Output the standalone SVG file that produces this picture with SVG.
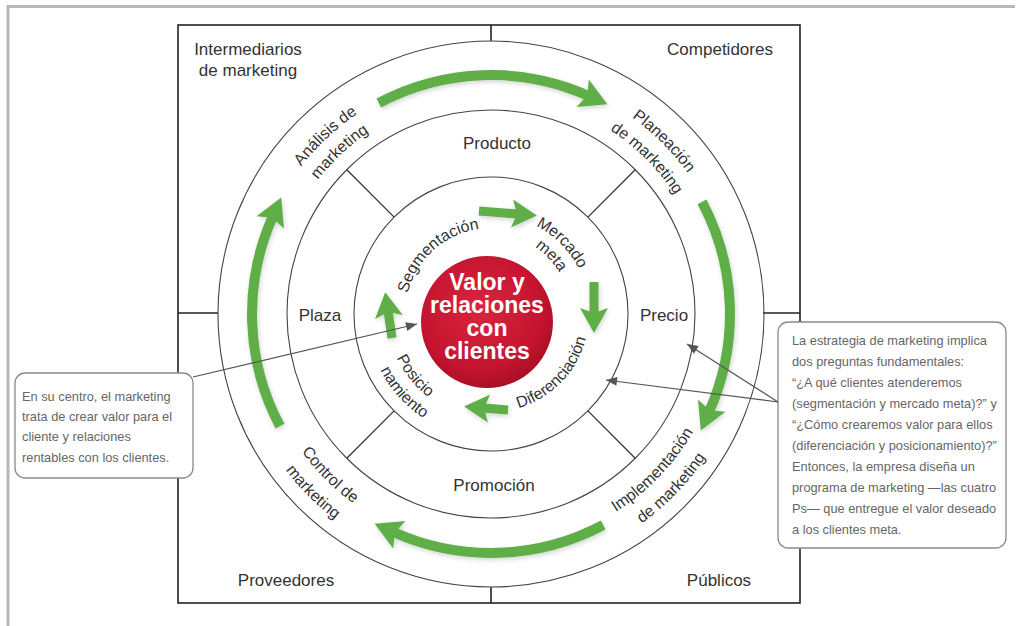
<svg xmlns="http://www.w3.org/2000/svg" width="1020" height="626" viewBox="0 0 1020 626">
  <style>
    .frame { fill: none; stroke: #b8b8b8; stroke-width: 3; }
    .sq { fill: none; stroke: #222; stroke-width: 1.6; }
    .ring { fill: none; stroke: #444; stroke-width: 1.1; }
    .div { stroke: #333; stroke-width: 1.3; }
    .lbl { font-family: "Liberation Sans", Arial, sans-serif; font-size: 17px; fill: #333; }
    .arc { font-family: "Liberation Sans", Arial, sans-serif; font-size: 16px; fill: #333; }
    .core { font-family: "Liberation Sans", Arial, sans-serif; font-size: 23px; font-weight: bold; fill: #fff; text-anchor: middle; }
    .big { fill: none; stroke: #5eae46; stroke-width: 10; }
    .small { fill: none; stroke: #5eae46; stroke-width: 9; }
    .box { fill: #fff; stroke: #8a8a8a; stroke-width: 1.3; }
    .note { font-family: "Liberation Sans", Arial, sans-serif; font-size: 12.8px; fill: #666; }
    .lead { stroke: #555; stroke-width: 1.2; fill: none; }
  </style>
  <defs>
    <radialGradient id="redFill" cx="45%" cy="40%" r="65%">
      <stop offset="0" stop-color="#d9263f"/>
      <stop offset="0.7" stop-color="#c4142f"/>
      <stop offset="1" stop-color="#a50d24"/>
    </radialGradient>
    <filter id="soft" x="-20%" y="-20%" width="140%" height="140%">
      <feGaussianBlur in="SourceAlpha" stdDeviation="2.5"/>
      <feOffset dx="1" dy="1.5"/>
      <feComponentTransfer><feFuncA type="linear" slope="0.18"/></feComponentTransfer>
      <feMerge><feMergeNode/><feMergeNode in="SourceGraphic"/></feMerge>
    </filter>
    <marker id="headBig" markerUnits="userSpaceOnUse" markerWidth="40" markerHeight="40" viewBox="-10 -20 40 40" refX="0" refY="0" orient="auto">
      <path d="M-6,-15 L21,0 L-6,15 L-1,0 Z" fill="#5eae46"/>
    </marker>
    <marker id="headSmall" markerUnits="userSpaceOnUse" markerWidth="40" markerHeight="40" viewBox="-10 -20 40 40" refX="0" refY="0" orient="auto">
      <path d="M-6,-14 L19,0 L-6,14 L-1,0 Z" fill="#5eae46"/>
    </marker>
    <marker id="tip" markerUnits="userSpaceOnUse" markerWidth="14" markerHeight="14" viewBox="-12 -6 14 12" refX="0" refY="0" orient="auto">
      <path d="M-11,-4.5 L0,0 L-11,4.5 Z" fill="#555"/>
    </marker>
    <!-- text baselines on the rings -->
    <path id="a1" d="M269.2,408.2 A242,242 0 0 1 600.9,98.4"/>
    <path id="a2" d="M289.4,399.6 A219,219 0 0 1 590.4,118.9"/>
    <path id="p1" d="M388.7,94.7 A242,242 0 0 1 710.3,416.3"/>
    <path id="p2" d="M398.4,115.5 A219,219 0 0 1 689.5,406.6"/>
    <path id="c1" d="M278.9,215.1 A234,234 0 0 0 589.9,526.1"/>
    <path id="c2" d="M257.2,205.0 A258,258 0 0 0 600.0,547.8"/>
    <path id="i1" d="M395.8,527.8 A234,234 0 0 0 701.3,211.4"/>
    <path id="i2" d="M386.1,549.7 A258,258 0 0 0 722.9,200.9"/>
    <path id="s1" d="M411.3,346.2 A86,86 0 0 1 531.4,238.1"/>
    <path id="m1" d="M449.2,224.3 A99,99 0 0 1 580.7,355.8"/>
    <path id="m2" d="M458.5,240.9 A80,80 0 0 1 562.9,349.1"/>
    <path id="d1" d="M451.1,403.5 A98,98 0 0 0 579.1,271.0"/>
    <path id="n1" d="M401.9,260.4 A104,104 0 0 0 524.9,412.3"/>
    <path id="n2" d="M381.5,255.8 A124,124 0 0 0 537.5,429.0"/>
  </defs>

  <rect width="1020" height="626" fill="#fff"/>
  <path class="frame" d="M8,626 V6.5 H1015"/>

  <!-- environment square with quadrant ticks -->
  <g id="environment">
    <rect class="sq" x="178" y="25" width="622" height="578"/>
    <line class="sq" x1="491" y1="25" x2="491" y2="41"/>
    <line class="sq" x1="491" y1="587" x2="491" y2="603"/>
    <line class="sq" x1="178" y1="313" x2="218" y2="313"/>
    <line class="sq" x1="763" y1="313" x2="800" y2="313"/>
    <text class="lbl" x="248" y="55" text-anchor="middle">Intermediarios</text>
    <text class="lbl" x="248" y="76" text-anchor="middle">de marketing</text>
    <text class="lbl" x="720" y="55" text-anchor="middle">Competidores</text>
    <text class="lbl" x="286" y="586" text-anchor="middle">Proveedores</text>
    <text class="lbl" x="719" y="586" text-anchor="middle">Públicos</text>
  </g>

  <!-- rings -->
  <g id="rings">
    <circle class="ring" cx="491" cy="314" r="273"/>
    <circle class="ring" cx="491" cy="314" r="204"/>
    <circle class="ring" cx="491" cy="314" r="137"/>
    <line class="div" x1="394.1" y1="217.1" x2="346.8" y2="169.8"/>
    <line class="div" x1="587.9" y1="217.1" x2="635.2" y2="169.8"/>
    <line class="div" x1="587.9" y1="410.9" x2="635.2" y2="458.2"/>
    <line class="div" x1="394.1" y1="410.9" x2="346.8" y2="458.2"/>
  </g>

  <!-- four Ps -->
  <g id="mix">
    <text class="lbl" x="497" y="149" text-anchor="middle">Producto</text>
    <text class="lbl" x="664" y="321" text-anchor="middle">Precio</text>
    <text class="lbl" x="320" y="321" text-anchor="middle">Plaza</text>
    <text class="lbl" x="494" y="491" text-anchor="middle">Promoción</text>
  </g>

  <!-- process steps on the outer ring -->
  <g id="analysis" class="arc">
    <text><textPath href="#a1" startOffset="50%" text-anchor="middle">Análisis de</textPath></text>
    <text><textPath href="#a2" startOffset="50%" text-anchor="middle">marketing</textPath></text>
  </g>
  <g id="planning" class="arc">
    <text><textPath href="#p1" startOffset="50%" text-anchor="middle">Planeación</textPath></text>
    <text><textPath href="#p2" startOffset="50%" text-anchor="middle">de marketing</textPath></text>
  </g>
  <g id="implementation" class="arc">
    <text><textPath href="#i1" startOffset="50%" text-anchor="middle">Implementación</textPath></text>
    <text><textPath href="#i2" startOffset="50%" text-anchor="middle">de marketing</textPath></text>
  </g>
  <g id="control" class="arc">
    <text><textPath href="#c1" startOffset="50%" text-anchor="middle">Control de</textPath></text>
    <text><textPath href="#c2" startOffset="50%" text-anchor="middle">marketing</textPath></text>
  </g>

  <!-- strategy steps on the inner ring -->
  <g id="segmentation" class="arc">
    <text><textPath href="#s1" startOffset="50%" text-anchor="middle">Segmentación</textPath></text>
  </g>
  <g id="targeting" class="arc">
    <text><textPath href="#m1" startOffset="50%" text-anchor="middle">Mercado</textPath></text>
    <text><textPath href="#m2" startOffset="50%" text-anchor="middle">meta</textPath></text>
  </g>
  <g id="differentiation" class="arc">
    <text><textPath href="#d1" startOffset="50%" text-anchor="middle">Diferenciación</textPath></text>
  </g>
  <g id="positioning" class="arc">
    <text><textPath href="#n1" startOffset="50%" text-anchor="middle">Posicio</textPath></text>
    <text><textPath href="#n2" startOffset="50%" text-anchor="middle">namiento</textPath></text>
  </g>

  <!-- core -->
  <g id="core">
    <circle cx="487" cy="322" r="66" fill="url(#redFill)"/>
    <text class="core" x="487" y="290">Valor y</text>
    <text class="core" x="487" y="313">relaciones</text>
    <text class="core" x="487" y="336">con</text>
    <text class="core" x="487" y="359">clientes</text>
  </g>

  <!-- cycle arrows -->
  <g id="connectors" filter="url(#soft)">
    <path class="big" d="M378.8,103 A239,239 0 0 1 588.2,95.7" marker-end="url(#headBig)"/>
    <path class="big" d="M702,201.8 A239,239 0 0 1 709.3,411.2" marker-end="url(#headBig)"/>
    <path class="big" d="M603.2,525 A239,239 0 0 1 393.8,532.3" marker-end="url(#headBig)"/>
    <path class="big" d="M280,426.2 A239,239 0 0 1 272.7,216.8" marker-end="url(#headBig)"/>
    <path class="small" d="M479,211 L518,214" marker-end="url(#headSmall)"/>
    <path class="small" d="M594,282 L594,314" marker-end="url(#headSmall)"/>
    <path class="small" d="M508,410 L483,408" marker-end="url(#headSmall)"/>
    <path class="small" d="M392,338 L388,311" marker-end="url(#headSmall)"/>
  </g>

  <!-- callouts -->
  <g id="note-core">
    <rect class="box" x="15" y="373" width="178" height="105" rx="10"/>
    <text class="note" x="22" y="401">En su centro, el marketing</text>
    <text class="note" x="22" y="421">trata de crear valor para el</text>
    <text class="note" x="22" y="441">cliente y relaciones</text>
    <text class="note" x="22" y="462">rentables con los clientes.</text>
  </g>
  <g id="note-strategy">
    <rect class="box" x="778" y="322" width="228" height="226" rx="10"/>
    <text class="note" x="792" y="345">La estrategia de marketing implica</text>
    <text class="note" x="792" y="366">dos preguntas fundamentales:</text>
    <text class="note" x="792" y="387">“¿A qué clientes atenderemos</text>
    <text class="note" x="792" y="408">(segmentación y mercado meta)?” y</text>
    <text class="note" x="792" y="429">“¿Cómo crearemos valor para ellos</text>
    <text class="note" x="792" y="450">(diferenciación y posicionamiento)?”</text>
    <text class="note" x="792" y="471">Entonces, la empresa diseña un</text>
    <text class="note" x="792" y="492">programa de marketing —las cuatro</text>
    <text class="note" x="792" y="513">Ps— que entregue el valor deseado</text>
    <text class="note" x="792" y="534">a los clientes meta.</text>
  </g>
  <g id="leaders">
    <line class="lead" x1="193" y1="377" x2="417" y2="324" marker-end="url(#tip)"/>
    <line class="lead" x1="778" y1="402" x2="687" y2="344" marker-end="url(#tip)"/>
    <line class="lead" x1="778" y1="402" x2="606" y2="380" marker-end="url(#tip)"/>
  </g>
</svg>
